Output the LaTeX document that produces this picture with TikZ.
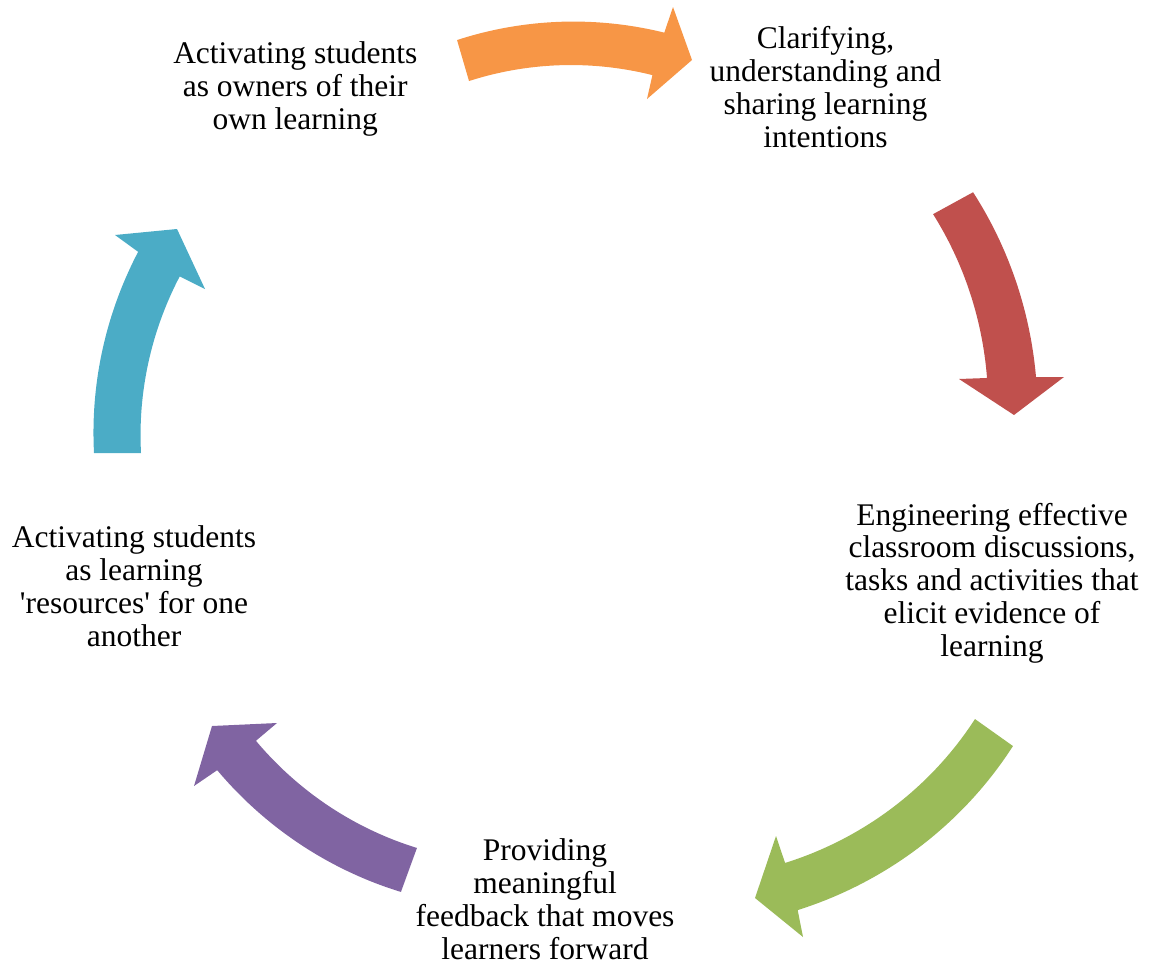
\documentclass[tikz,border=0pt]{standalone}
\usepackage{fontspec}
\setmainfont{Liberation Serif}[Ligatures=TeXOff]
\definecolor{corange}{HTML}{F79646}
\definecolor{cred}{HTML}{C0504D}
\definecolor{cgreen}{HTML}{9BBB59}
\definecolor{cpurple}{HTML}{8064A2}
\definecolor{cblue}{HTML}{4BACC6}
\begin{document}
\begin{tikzpicture}[x=1pt,y=-1pt,
  lbl/.style={align=center, anchor=base, inner sep=0pt, font=\fontsize{31.5}{32.7}\selectfont}]
\useasboundingbox (0,0) rectangle (1153,964);

% orange (top)
\fill[corange]
  plot[domain=-106.3:-74.4, samples=40, variable=\t] ({562+(374+0.2006*(\t+106.3))*cos(\t)}, {399+(374+0.2006*(\t+106.3))*sin(\t)})
  -- (673,7) -- (692,60) -- (647,99)
  -- plot[domain=-74.4:-106.3, samples=40, variable=\t] ({562+(331.3+0.1567*(\t+106.3))*cos(\t)}, {399+(331.3+0.1567*(\t+106.3))*sin(\t)})
  -- cycle;

% red (right)
\fill[cred]
  plot[domain=-28.7:-1.1, samples=40, variable=\t] ({621+(401.4+0.4964*(\t+28.7))*cos(\t)}, {385+(401.4+0.4964*(\t+28.7))*sin(\t)})
  -- (1064,377) -- (1014,415) -- (959,379)
  -- plot[domain=-1.1:-28.7, samples=40, variable=\t] ({621+(355.8+0.3732*(\t+28.7))*cos(\t)}, {385+(355.8+0.3732*(\t+28.7))*sin(\t)})
  -- cycle;

% green (lower right)
\fill[cgreen]
  plot[domain=35.4:75.05, samples=40, variable=\t] ({693.2+(392.3+0.3203*(\t-35.4))*cos(\t)}, {518.8+(392.3+0.3203*(\t-35.4))*sin(\t)})
  -- (803,937) -- (755,898) -- (776,836)
  -- plot[domain=75.05:35.4, samples=40, variable=\t] ({693.2+(345.7+0.2648*(\t-35.4))*cos(\t)}, {518.8+(345.7+0.2648*(\t-35.4))*sin(\t)})
  -- cycle;

% purple (lower left)
\fill[cpurple]
  plot[domain=110:142.8, samples=40, variable=\t] ({532.3+(384.1+0.3506*(\t-110))*cos(\t)}, {531+(384.1+0.3506*(\t-110))*sin(\t)})
  -- (194,786) -- (212,726) -- (277,723)
  -- plot[domain=142.8:110, samples=40, variable=\t] ({532.3+(337.3+0.2957*(\t-110))*cos(\t)}, {531+(337.3+0.2957*(\t-110))*sin(\t)})
  -- cycle;

% blue (left)
\fill[cblue]
  plot[domain=180:210.6, samples=40, variable=\t] ({478.3+(384.3+0.3562*(\t-180))*cos(\t)}, {453+(384.3+0.3562*(\t-180))*sin(\t)})
  -- (115,235) -- (177,229) -- (205,289)
  -- plot[domain=210.6:180, samples=40, variable=\t] ({478.3+(337.3+0.3137*(\t-180))*cos(\t)}, {453+(337.3+0.3137*(\t-180))*sin(\t)})
  -- cycle;

% texts (anchor = baseline of the last line)
\node[lbl] (tr) at (825.5,147) {Clarifying,\\understanding and\\sharing learning\\intentions};
\node[lbl] (r) at (992,656) {Engineering effective\\classroom discussions,\\tasks and activities that\\elicit evidence of\\learning};
\node[lbl] (b) at (545,959) {Providing\\meaningful\\feedback that moves\\learners forward};
\node[lbl] (l) at (134,646) {Activating students\\as learning\\'resources' for one\\another};
\node[lbl] (tl) at (295.3,129) {Activating students\\as owners of their\\own learning};
\end{tikzpicture}
\end{document}
